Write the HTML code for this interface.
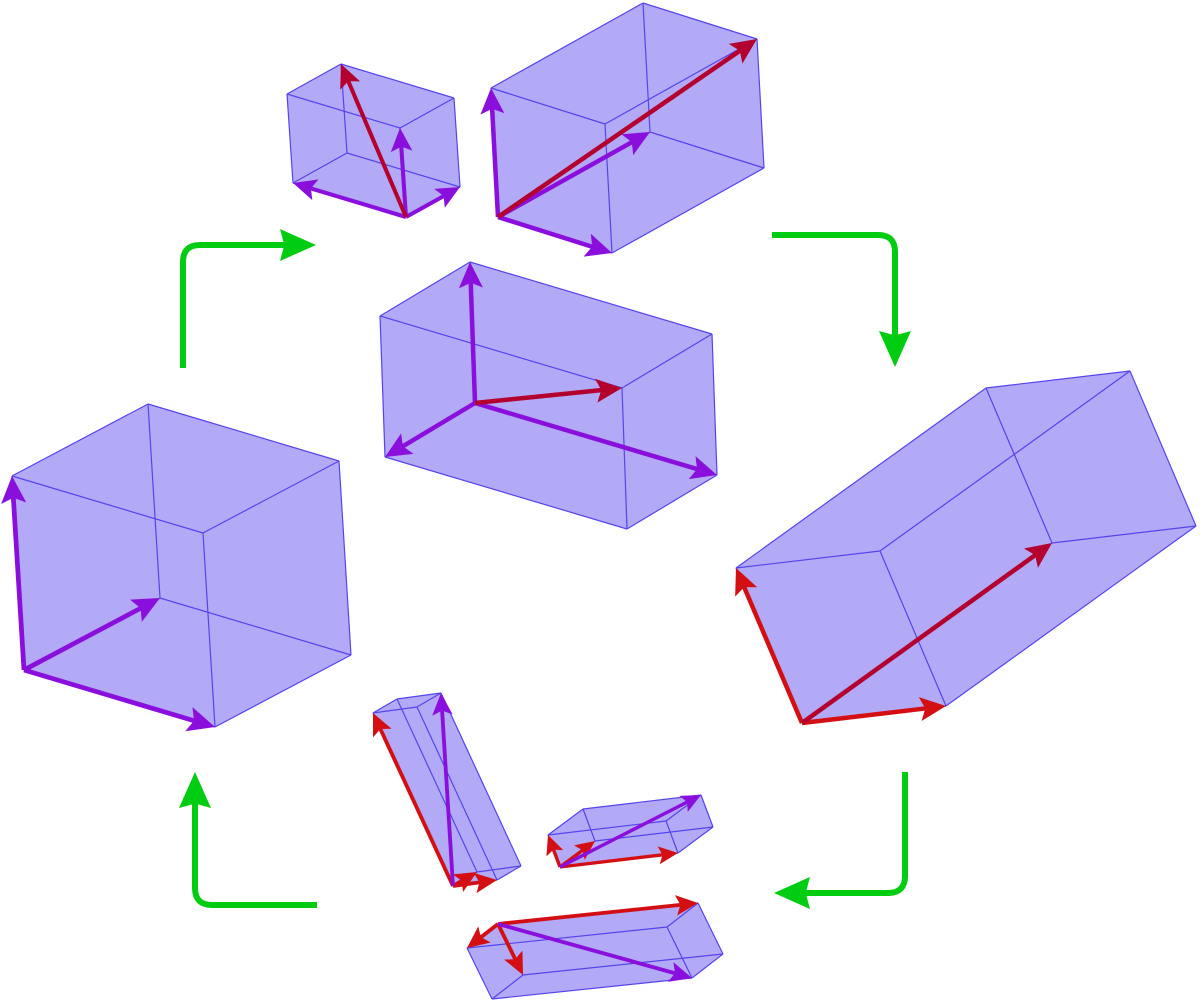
<!DOCTYPE html>
<html><head><meta charset="utf-8"><style>
html,body{margin:0;padding:0;background:#fff;}
svg{display:block}
</style></head><body>
<svg id="s" width="1200" height="1003" viewBox="0 0 1200 1003" xmlns="http://www.w3.org/2000/svg"></svg>
<script>
const S=document.getElementById('s');
let out='';
const PUR='#8a0fdc', DR='#b3002f', RR='#d40f14';
function arrow(p,q,col,w,hl,hw){
  const dx=q[0]-p[0],dy=q[1]-p[1],L=Math.hypot(dx,dy),ux=dx/L,uy=dy/L,nx=-uy,ny=ux;
  const b=[q[0]-ux*hl,q[1]-uy*hl], n=[q[0]-ux*hl*0.8,q[1]-uy*hl*0.8];
  out+=`<line x1="${p[0]}" y1="${p[1]}" x2="${n[0]}" y2="${n[1]}" stroke="${col}" stroke-width="${w}"/>`;
  out+=`<polygon points="${q[0]},${q[1]} ${b[0]+nx*hw},${b[1]+ny*hw} ${n[0]},${n[1]} ${b[0]-nx*hw},${b[1]-ny*hw}" fill="${col}"/>`;
}
function box(O,u,v,w,axCol,diagCol,sc,wCol){
  const P=(a,b,c)=>[O[0]+a*u[0]+b*v[0]+c*w[0],O[1]+a*u[1]+b*v[1]+c*w[1]];
  const faces=[
    [P(0,0,0),P(1,0,0),P(1,1,0),P(0,1,0)],[P(0,0,1),P(1,0,1),P(1,1,1),P(0,1,1)],
    [P(0,0,0),P(1,0,0),P(1,0,1),P(0,0,1)],[P(0,1,0),P(1,1,0),P(1,1,1),P(0,1,1)],
    [P(0,0,0),P(0,1,0),P(0,1,1),P(0,0,1)],[P(1,0,0),P(1,1,0),P(1,1,1),P(1,0,1)]];
  faces.forEach(f=>{out+=`<polygon points="${f.map(p=>p.join(',')).join(' ')}" fill="#6a58ee" fill-opacity="0.3"/>`;});
  const E=[];
  for(let a=0;a<2;a++)for(let b=0;b<2;b++){E.push([P(0,a,b),P(1,a,b)]);E.push([P(a,0,b),P(a,1,b)]);E.push([P(a,b,0),P(a,b,1)]);}
  E.forEach(e=>{out+=`<line x1="${e[0][0]}" y1="${e[0][1]}" x2="${e[1][0]}" y2="${e[1][1]}" stroke="#5544ee" stroke-width="1.2"/>`;});
  const hl=26*sc,hw=12*sc,lw=4.5*sc;
  arrow(O,P(1,0,0),axCol,lw,hl,hw);arrow(O,P(0,1,0),axCol,lw,hl,hw);arrow(O,P(0,0,1),wCol||axCol,lw,hl,hw);
  if(diagCol)arrow(O,P(1,1,1),diagCol,lw,hl,hw);
}
box([406,217],[54,-30],[-113,-34],[-6,-89],PUR,DR,0.9);
box([498,217],[114,36],[152,-85],[-7,-129],PUR,DR,1);
box([475,403],[242,72],[-90,54],[-5,-141],PUR,DR,1);
box([24,670],[191,57],[136,-72],[-12,-194],PUR,null,1.05);
box([802,723],[144,-17],[-66,-155],[250,-180],RR,null,1,DR);
box([453,886],[44,-6],[24,-14],[-80,-173],RR,PUR,0.85);
box([560,867],[118,-14],[-12,-32],[35,-26],RR,PUR,0.75);
box([498,924],[200,-21],[-31,24],[25,51],RR,PUR,0.85);
function garrow(d,tip,dir){
  out+=`<path d="${d}" fill="none" stroke="#00cc11" stroke-width="6"/>`;
  const [x,y]=tip,[ux,uy]=dir,nx=-uy,ny=ux,hl=36,hw=16;
  const b=[x-ux*hl,y-uy*hl],n=[x-ux*hl*0.88,y-uy*hl*0.88];
  out+=`<polygon points="${x},${y} ${b[0]+nx*hw},${b[1]+ny*hw} ${n[0]},${n[1]} ${b[0]-nx*hw},${b[1]-ny*hw}" fill="#00cc11"/>`;
}
garrow('M183,368 L183,262 Q183,245 200,245 L285,245',[316,245],[1,0]);
garrow('M772,235 L878,235 Q895,235 895,252 L895,336',[895,367],[0,1]);
garrow('M905,772 L905,876 Q905,893 888,893 L805,893',[774,893],[-1,0]);
garrow('M317,905 L212,905 Q195,905 195,888 L195,803',[195,772],[0,-1]);
S.innerHTML=out;
</script>
</body></html>
